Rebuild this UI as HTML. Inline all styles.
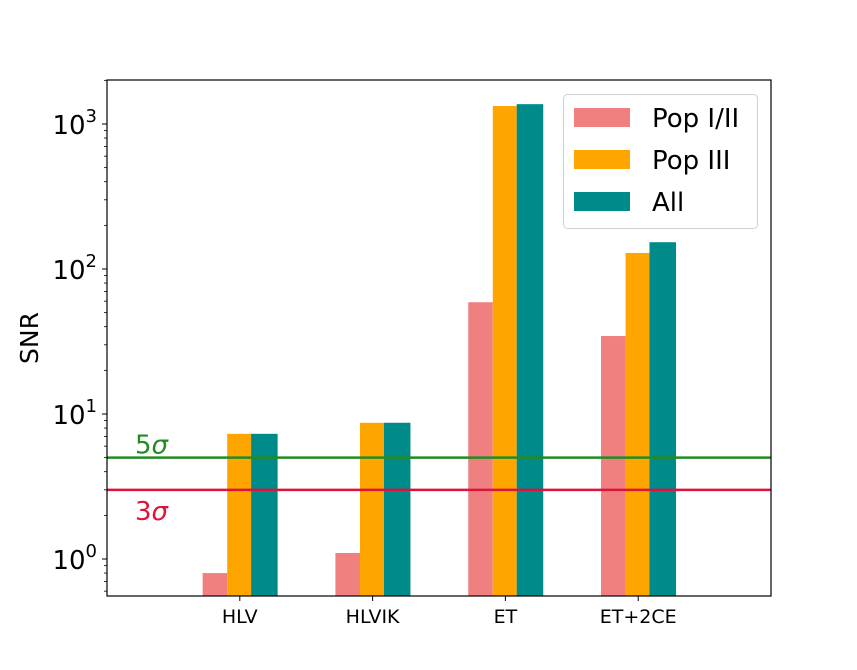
<!DOCTYPE html>
<html><head><meta charset="utf-8"><style>
body{margin:0;background:#fff;}
svg{display:block;font-family:"DejaVu Sans","Liberation Sans",sans-serif;}
</style></head><body>
<svg id="chart" width="857" height="670" viewBox="0 0 857 670">
<g id="bars"></g>
<g id="lines"></g>
<g id="axes"></g>
<g id="legend"></g>
</svg>
<script>
const categories = ["HLV","HLVIK","ET","ET+2CE"];
const seriesNames = ["Pop I/II","Pop III","All"];
const popI = [0.80, 1.1, 59, 34.5];
const popIII = [7.3, 8.7, 1330, 129];
const allPop = [7.3, 8.7, 1370, 153];
const yTickExps = [0,1,2,3];
const thresholds = [5,3];
const thresholdNums = ["5","3"];

const NS="http://www.w3.org/2000/svg";
const L=107,R=771,T=80,B=596;
const xMin=-1,xMax=4;
const yLogMin=-0.2552,yLogMax=3.3034;
function x(v){return L+(v-xMin)/(xMax-xMin)*(R-L);}
function y(v){return B-(Math.log10(v)-yLogMin)/(yLogMax-yLogMin)*(B-T);}
function mk(tag,attrs,parent){const e=document.createElementNS(NS,tag);for(const k in attrs)e.setAttribute(k,attrs[k]);parent.appendChild(e);return e;}

const colors=["#f08080","#ffa500","#008b8b"];
const series=[popI,popIII,allPop];
const offs=[[-0.28,-0.095],[-0.095,0.085],[0.085,0.285]];
const gb=document.getElementById('bars');
series.forEach((s,si)=>{
  s.forEach((v,ci)=>{
    const x0=x(ci+offs[si][0]),x1=x(ci+offs[si][1]);
    const r=mk('rect',{x:x0,y:y(v),width:x1-x0,height:B-y(v),fill:colors[si]},gb);
    
    
  });
});

const gl=document.getElementById('lines');
const lcol=["#228b22","#dc143c"];
thresholds.forEach((t,i)=>{
  const ln=mk('line',{x1:L,x2:R,y1:y(t),y2:y(t),stroke:lcol[i],'stroke-width':2.5},gl);
  
  
  const tx=mk('text',{x:135,y:i==0?y(t)-4:y(t)+30,fill:lcol[i],'font-size':26},gl);
  tx.innerHTML=thresholdNums[i]+'<tspan font-style="italic">σ</tspan>';
  
  
});

const ga=document.getElementById('axes');
const fr=mk('rect',{x:L,y:T,width:R-L,height:B-T,fill:'none',stroke:'#000','stroke-width':1.2},ga);


for(let e=-1;e<=3;e++){for(let m=1;m<10;m++){const v=m*Math.pow(10,e);if(Math.log10(v)<yLogMin||Math.log10(v)>yLogMax)continue;
  const len=m==1?5:3;mk('line',{x1:L-len,x2:L,y1:y(v),y2:y(v),stroke:'#000','stroke-width':m==1?1:0.8},ga);}}
yTickExps.forEach(e=>{
  const t=mk('text',{x:L-10,y:y(Math.pow(10,e))+10,'text-anchor':'end','font-size':26},ga);
  t.innerHTML='10<tspan dy="-12" font-size="18">'+e+'</tspan>';
  
  
});
categories.forEach((c,i)=>{
  mk('line',{x1:x(i),x2:x(i),y1:B,y2:B+5,stroke:'#000'},ga);
  const t=mk('text',{x:x(i),y:B+27,'text-anchor':'middle','font-size':19},ga);
  t.textContent=c;
  
  
});
const yl=mk('text',{x:38,y:338,'text-anchor':'middle','font-size':25},ga);
yl.setAttribute('transform','rotate(-90 38 338)');
yl.textContent='SNR';



const lg=document.getElementById('legend');
mk('rect',{x:563.5,y:94.5,width:194,height:134,rx:4,fill:'#fff',stroke:'#d0d0d0','stroke-width':1},lg);
seriesNames.forEach((n,i)=>{
  const p=mk('rect',{x:574,y:108+i*42,width:56,height:19,fill:colors[i]},lg);
  
  
  const t=mk('text',{x:652,y:127+i*42,'font-size':26},lg);
  t.textContent=n;
  
  
});
</script>
</body></html>
